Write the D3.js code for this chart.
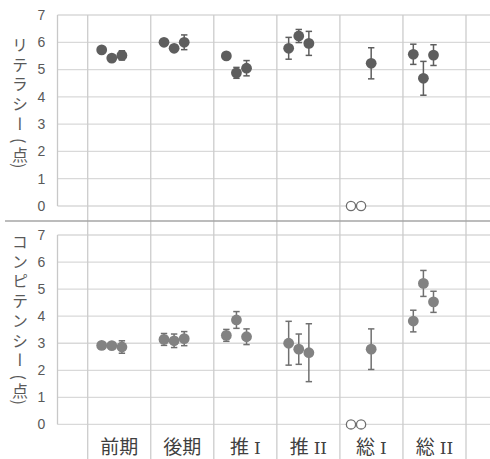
<!DOCTYPE html>
<html>
<head>
<meta charset="utf-8">
<script src="https://cdn.jsdelivr.net/npm/d3@7"></script>
<style>
	body { margin: 0; background: #fff; }
	text { font-family: 'Liberation Sans', Arial, 'Noto Sans CJK JP', sans-serif; }
	.jp { font-family: 'Noto Sans CJK JP', sans-serif; }
	.num { font-family: 'DejaVu Serif', 'Liberation Serif', serif; }
</style>
</head>
<body>
<script>
// categories and tick labels
var categories = ['前期', '後期', '推Ⅰ', '推Ⅱ', '総Ⅰ', '総Ⅱ'];
var yTicks = [0, 1, 2, 3, 4, 5, 6, 7];

// three series per category (0 = no data, drawn hollow)
var literacyMean = [[5.72, 5.42, 5.52], [6.0, 5.78, 6.0], [5.5, 4.88, 5.05], [5.78, 6.23, 5.96], [0, 0, 5.23], [5.56, 4.68, 5.53]];
var literacyErr = [[0.08, 0.1, 0.17], [0.08, 0.1, 0.27], [0.08, 0.2, 0.28], [0.4, 0.24, 0.44], [0, 0, 0.57], [0.37, 0.62, 0.38]];
var competencyMean = [[2.92, 2.91, 2.86], [3.14, 3.09, 3.17], [3.29, 3.86, 3.24], [3.0, 2.78, 2.65], [0, 0, 2.78], [3.82, 5.21, 4.53]];
var competencyErr = [[0.05, 0.06, 0.23], [0.22, 0.25, 0.26], [0.22, 0.31, 0.29], [0.81, 0.56, 1.07], [0, 0, 0.75], [0.4, 0.48, 0.39]];

var W = 490, H = 459;
var plotLeft = 57.5;

var svg = d3.select('body').append('svg')
	.attr('width', W)
	.attr('height', H);

// category cells (gridlines + labels)
var x = d3.scaleBand().domain(categories).range([87.7, 466]);
// point positions
var xPt = d3.scaleLinear().domain([0, 5]).range([111.7, 423.3]);
var seriesOffset = d3.scaleLinear().domain([0, 2]).range([-10, 10.2]);

var panels = [
	{ mean: literacyMean, err: literacyErr, top: 15, bottom: 206, title: 'リテラシー', titleY: 37, fill: '#5e5e5e', bar: '#5e5e5e' },
	{ mean: competencyMean, err: competencyErr, top: 235, bottom: 424.4, title: 'コンピテンシー', titleY: 234, fill: '#828282', bar: '#707070' }
];

var pitch = 19.7; // 16px + letter spacing

// horizontal gridlines and axis
panels.forEach(function(p) {
	p.y = d3.scaleLinear().domain([0, 7]).range([p.bottom, p.top]);
	var g = svg.append('g');
	g.selectAll('line.h')
		.data(yTicks)
		.enter()
		.append('line')
		.attr('x1', plotLeft)
		.attr('x2', W)
		.attr('y1', d => p.y(d))
		.attr('y2', d => p.y(d))
		.attr('stroke', '#d9d9d9')
		.attr('stroke-width', 1.3);
	g.append('line')
		.attr('x1', plotLeft).attr('x2', plotLeft)
		.attr('y1', p.y(7)).attr('y2', p.y(0))
		.attr('stroke', '#c8c8c8')
		.attr('stroke-width', 1.3);
	g.selectAll('text.tick')
		.data(yTicks)
		.enter()
		.append('text')
		.attr('x', 41.5)
		.attr('y', d => p.y(d))
		.attr('dy', '0.35em')
		.attr('text-anchor', 'middle')
		.style('font-size', '14px')
		.style('fill', '#595959')
		.text(d => d);

	// vertical title: katakana in vertical writing, then (点)
	g.append('text')
		.attr('class', 'jp')
		.attr('x', 20)
		.attr('y', p.titleY)
		.style('writing-mode', 'vertical-rl')
		.style('font-size', '16px')
		.style('letter-spacing', (pitch - 16) + 'px')
		.style('fill', '#595959')
		.text(p.title);
	var last = p.titleY + (p.title.length - 1) * pitch + 8;
	[['(', 17, 90], ['点', 30, 0], [')', 42, 90]].forEach(function(c) {
		g.append('text')
			.attr('class', 'jp')
			.attr('transform', 'translate(20,' + (last + c[1]) + ') rotate(' + c[2] + ')')
			.attr('text-anchor', 'middle')
			.attr('dominant-baseline', 'central')
			.style('font-size', '16px')
			.style('fill', '#595959')
			.text(c[0]);
	});
});

// vertical gridlines at category edges
var edges = d3.range(categories.length + 1).map(i => x.range()[0] + i * x.step());
svg.selectAll('line.v')
	.data(edges)
	.enter()
	.append('line')
	.attr('x1', d => d).attr('x2', d => d)
	.attr('y1', panels[0].top).attr('y2', H)
	.attr('stroke', '#cccccc')
	.attr('stroke-width', 1.3);

// panel divider
svg.append('line')
	.attr('x1', 5).attr('x2', W)
	.attr('y1', 221).attr('y2', 221)
	.attr('stroke', '#a6a6a6')
	.attr('stroke-width', 1.4);

// category labels (roman numerals in a serif face)
var cat = svg.selectAll('text.cat')
	.data(categories)
	.enter()
	.append('text')
	.attr('class', 'jp')
	.attr('x', d => x(d) + x.bandwidth() / 2)
	.attr('y', 454)
	.attr('text-anchor', 'middle')
	.style('font-size', '19px')
	.style('fill', '#404040');
cat.append('tspan').text(d => d.replace(/[ⅠⅡ]/, ''));
cat.filter(d => /[ⅠⅡ]/.test(d))
	.append('tspan')
	.attr('class', 'num')
	.attr('dx', 5)
	.style('font-size', '17px')
	.text(d => d.match(/[ⅠⅡ]/)[0] == 'Ⅰ' ? 'I' : 'II');

// points with error bars
panels.forEach(function(p) {
	var pts = [];
	p.mean.forEach((row, i) => row.forEach((v, j) => pts.push({ i: i, j: j, v: v, e: p.err[i][j] })));
	var g = svg.append('g');
	var cx = d => xPt(d.i) + seriesOffset(d.j);

	var bars = pts.filter(d => d.e > 0);
	g.selectAll('line.eb')
		.data(bars)
		.enter()
		.append('line')
		.attr('x1', cx).attr('x2', cx)
		.attr('y1', d => p.y(d.v + d.e))
		.attr('y2', d => p.y(d.v - d.e))
		.attr('stroke', p.bar)
		.attr('stroke-width', 1.5);
	['top', 'bot'].forEach(function(k) {
		g.selectAll('line.cap' + k)
			.data(bars)
			.enter()
			.append('line')
			.attr('x1', d => cx(d) - 3.2).attr('x2', d => cx(d) + 3.2)
			.attr('y1', d => p.y(k == 'top' ? d.v + d.e : d.v - d.e))
			.attr('y2', d => p.y(k == 'top' ? d.v + d.e : d.v - d.e))
			.attr('stroke', p.bar)
			.attr('stroke-width', 1.5);
	});

	g.selectAll('circle')
		.data(pts)
		.enter()
		.append('circle')
		.attr('cx', cx)
		.attr('cy', d => p.y(d.v))
		.attr('r', d => d.v > 0 ? 5.4 : 4.6)
		.attr('fill', d => d.v > 0 ? p.fill : '#fff')
		.attr('stroke', d => d.v > 0 ? 'none' : '#6e6e6e')
		.attr('stroke-width', 1.3);
});
</script>
</body>
</html>
